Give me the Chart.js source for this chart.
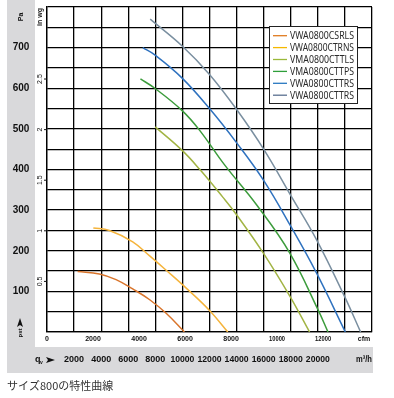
<!DOCTYPE html>
<html>
<head>
<meta charset="utf-8">
<script src="https://cdn.jsdelivr.net/npm/chart.js@4"></script>
<style>
  body { margin: 0; background: #fff; }
  #wrap { width: 394px; height: 398px; position: relative; }
</style>
</head>
<body>
<div id="wrap"><canvas id="fanChart" width="394" height="398"></canvas></div>
<script>
// model names (legend order)
const seriesNames = ['VWA0800CSRLS', 'VWA0800CTRNS', 'VMA0800CTTLS', 'VMA0800CTTPS', 'VWA0800CTTRS', 'VWA0800CTTRS'];
const seriesColors = ['#d9752c', '#f5b43c', '#a2b444', '#3c9c3c', '#2f72bf', '#7a8fa0'];
const legendColors = ['#e07b20', '#f5b800', '#9ab83a', '#2e9e3a', '#2878c0', '#5a7090'];

// airflow in m3/h, pressure in Pa
const flowCSRLS = [2260, 3870, 5100, 6330, 7560, 8800, 10150];
const presCSRLS = [149, 143, 129, 106, 80, 46, 0];
const flowCTRNS = [3420, 4610, 6330, 7560, 8800, 10280, 12000, 13350];
const presCTRNS = [256, 250, 222, 188, 152, 108, 53, 0];
const flowCTTLS = [7990, 9980, 11260, 12980, 13970, 15940, 17920, 19390];
const presCTTLS = [505, 447, 401, 332, 290, 196, 89, 0];
const flowCTTPS = [6900, 7960, 9980, 11260, 13100, 15500, 17920, 20010, 20750];
const presCTTPS = [623, 600, 545, 497, 412, 312, 195, 55, 0];
const flowCTTRS = [7070, 7960, 9980, 12000, 14020, 16020, 18040, 19890, 22030];
const presCTTRS = [700, 682, 625, 550, 465, 372, 258, 146, 0];
const flowCTTRS2 = [7620, 9980, 12000, 14020, 16020, 18040, 19890, 21980, 23160];
const presCTTRS2 = [770, 704, 634, 547, 449, 334, 228, 87, 0];

const flows = [flowCSRLS, flowCTRNS, flowCTTLS, flowCTTPS, flowCTTRS, flowCTTRS2];
const pressures = [presCSRLS, presCTRNS, presCTTLS, presCTTPS, presCTTRS, presCTTRS2];

// tick labels
const paTicks = [100, 200, 300, 400, 500, 600, 700];
const inwgTicks = [0.5, 1, 1.5, 2, 2.5];
const cfmTicks = [0, 2000, 4000, 6000, 8000, 10000, 12000];
const m3hTicks = [2000, 4000, 6000, 8000, 10000, 12000, 14000, 16000, 18000, 20000];
const PA_PER_INWG = 249.09;
const M3H_PER_CFM = 1.699;

const datasets = seriesNames.map(function(name, i) {
    return {
        label: name,
        data: flows[i].map(function(f, k) { return { x: f, y: pressures[i][k] }; }),
        borderColor: seriesColors[i],
        borderWidth: 1.5,
        pointRadius: 0,
        fill: false,
        tension: 0.4
    };
});

const bandsPlugin = {
    id: 'bands',
    beforeDraw(chart) {
        const ctx = chart.ctx;
        ctx.save();
        ctx.fillStyle = '#d9d9db';
        ctx.fillRect(7, 0, 28, 373);
        ctx.fillRect(7, 347, 366, 26);
        ctx.restore();
    }
};

function rotText(ctx, text, x, y, font) {
    ctx.save();
    ctx.translate(x, y);
    ctx.rotate(-Math.PI / 2);
    ctx.font = font;
    ctx.textAlign = 'center';
    ctx.textBaseline = 'middle';
    ctx.fillText(text, 0, 0);
    ctx.restore();
}

const labelsPlugin = {
    id: 'labels',
    afterDraw(chart) {
        const ctx = chart.ctx;
        const xs = chart.scales.x;
        const ys = chart.scales.y;
        ctx.save();
        ctx.fillStyle = '#111';
        ctx.strokeStyle = '#111';

        // Pa labels in the gray band
        ctx.font = 'bold 10px "Liberation Sans"';
        ctx.textAlign = 'center';
        ctx.textBaseline = 'middle';
        paTicks.forEach(function(v) {
            ctx.fillText(String(v), 21, ys.getPixelForValue(v), 18);
        });
        rotText(ctx, 'Pa', 21, 17, 'bold 7px "Liberation Sans"');

        // in. wg labels
        inwgTicks.forEach(function(v) {
            const y = ys.getPixelForValue(v * PA_PER_INWG);
            rotText(ctx, String(v), 40, y, '7px "Liberation Sans"');
            ctx.lineWidth = 1;
            ctx.beginPath();
            ctx.moveTo(44, y);
            ctx.lineTo(47, y);
            ctx.stroke();
        });
        rotText(ctx, 'in wg', 40, 17, 'bold 7px "Liberation Sans"');

        // cfm labels under the plot
        ctx.font = 'bold 7px "Liberation Sans"';
        ctx.textAlign = 'center';
        cfmTicks.forEach(function(v) {
            ctx.fillText(String(v), xs.getPixelForValue(v * M3H_PER_CFM), 339.5, 16);
        });
        ctx.fillText('cfm', 364, 339.5);

        // m3/h labels in the bottom band
        ctx.font = 'bold 9px "Liberation Sans"';
        m3hTicks.forEach(function(v) {
            ctx.fillText(String(v), xs.getPixelForValue(v), 360, 24);
        });
        ctx.fillText('m³/h', 364, 360, 16);

        // q_v arrow
        ctx.textAlign = 'left';
        ctx.font = 'bold 9px "Liberation Sans"';
        ctx.fillText('q', 35, 360);
        ctx.font = 'bold 5px "Liberation Sans"';
        ctx.fillText('v', 40, 363);
        ctx.beginPath();
        ctx.moveTo(46, 357);
        ctx.lineTo(55, 360);
        ctx.lineTo(46, 363);
        ctx.lineTo(48, 360);
        ctx.closePath();
        ctx.fill();

        // p_st arrow
        ctx.beginPath();
        ctx.moveTo(17, 327);
        ctx.lineTo(20, 318);
        ctx.lineTo(23, 327);
        ctx.lineTo(20, 325);
        ctx.closePath();
        ctx.fill();
        rotText(ctx, 'pst', 20, 333, 'bold 6px "Liberation Sans"');

        // legend box
        const bx = 269.5, by = 26.5, bw = 88, bh = 77;
        ctx.fillStyle = '#fff';
        ctx.fillRect(bx, by, bw, bh);
        ctx.strokeStyle = '#222';
        ctx.lineWidth = 1;
        ctx.strokeRect(bx, by, bw, bh);
        ctx.font = '10.5px "Noto Sans"';
        ctx.textAlign = 'left';
        ctx.textBaseline = 'middle';
        seriesNames.forEach(function(name, i) {
            const y = 35.7 + 11.9 * i;
            ctx.strokeStyle = legendColors[i];
            ctx.lineWidth = 1.3;
            ctx.beginPath();
            ctx.moveTo(273, y);
            ctx.lineTo(287, y);
            ctx.stroke();
            ctx.fillStyle = '#2a2a2a';
            ctx.fillText(name, 290, y + 0.5, 64);
        });

        // caption
        ctx.fillStyle = '#333';
        ctx.font = '11px "Noto Sans CJK JP"';
        ctx.textBaseline = 'middle';
        ctx.fillText('サイズ800の特性曲線', 7, 386);
        ctx.restore();
    }
};

const chart = new Chart(document.getElementById('fanChart').getContext('2d'), {
    type: 'line',
    data: { datasets: datasets },
    options: {
        responsive: false,
        animation: false,
        layout: { padding: { left: 47, top: 7, right: 22, bottom: 66 } },
        plugins: { legend: { display: false }, tooltip: { enabled: false } },
        scales: {
            x: {
                type: 'linear', min: 0, max: 24000,
                ticks: { display: false, stepSize: 2000 },
                grid: { color: '#000', lineWidth: 1.3, drawTicks: false },
                border: { color: '#000', width: 1.3 }
            },
            y: {
                type: 'linear', min: 0, max: 800,
                ticks: { display: false, stepSize: 50 },
                grid: { color: '#000', lineWidth: 1.3, drawTicks: false },
                border: { color: '#000', width: 1.3 }
            }
        }
    },
    plugins: [bandsPlugin, labelsPlugin]
});
</script>
</body>
</html>
